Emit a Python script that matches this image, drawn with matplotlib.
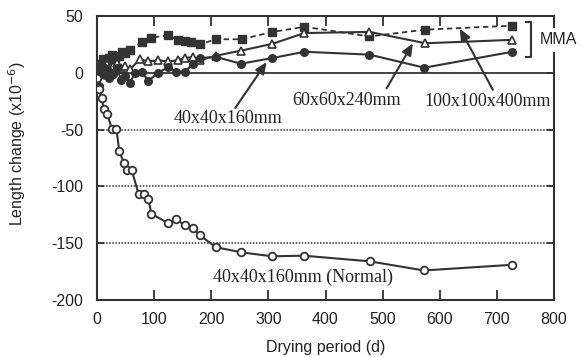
import matplotlib
matplotlib.use("Agg")
import matplotlib.pyplot as plt

plt.rcParams["axes.unicode_minus"] = False

# ---- data ----
sq_d = [0, 3, 7, 11, 14, 18, 21, 26, 32, 39, 44, 49, 58, 78, 95, 125, 141, 154, 165, 180, 208, 253, 307, 363, 477, 575, 727]
sq_v = [0, 4, 8, 12, 9, 11, 13, 16, 12, 15, 18, 17, 20, 27, 31, 33, 29, 28, 27, 25, 29.5, 29.5, 36, 40.5, 32, 38, 41.5]

tri_d = [0, 3, 7, 11, 14, 18, 21, 28, 35, 42, 49, 58, 75, 90, 107, 125, 141, 154, 168, 180, 208, 252, 307, 363, 477, 575, 727]
tri_v = [0, 2, 5, 7, 3, 8, 2, 6, 9, 4, 6, 3, 12, 10, 11, 10, 11, 13, 14, 11, 15, 19.5, 25.5, 35, 36, 26, 29]

cir_d = [0, 3, 7, 11, 14, 18, 21, 28, 35, 42, 49, 58, 66, 78, 90, 107, 125, 138, 154, 168, 180, 208, 252, 307, 363, 477, 573, 727]
cir_v = [-3, -12, 2, 5, -2, 3, -5, -1, 4, -6, -3, -9, 0, 1, -7, 0, 5, 1, 1, 8, 13, 14, 8, 13, 18.5, 16, 4.5, 18.5]

nor_d = [0, 3, 8, 12, 18, 26, 34, 39, 47, 52, 61, 73, 82, 90, 95, 125, 138, 154, 168, 180, 208, 252, 306, 362, 478, 572, 727]
nor_v = [-5, -14, -22, -32, -36, -49.5, -49.5, -69, -79, -86, -86, -107, -107, -111, -124, -132.5, -129, -134, -136.5, -143,
         -153.5, -158, -161.5, -161, -166, -174, -169]

x_ticks = [0, 100, 200, 300, 400, 500, 600, 700, 800]
y_ticks = [50, 0, -50, -100, -150, -200]

C = "#333333"
SANS = "Liberation Sans"
SERIF = "Liberation Serif"

fig = plt.figure(figsize=(5.83, 3.57), dpi=100)
ax = fig.add_axes([97/583, 1-300/357, (554-97)/583, (300-16)/357])

ax.set_xlim(0, 800)
ax.set_ylim(-200, 50)

# grid lines
for g in [-50, -100, -150]:
    ax.axhline(g, color=C, lw=1.1, ls=(0, (1, 1)), zorder=1)
ax.axhline(0, color=C, lw=1.3, zorder=1)

ax.plot(sq_d, sq_v, color=C, lw=1.3, ls=(0, (3, 2)), marker="s", ms=6,
        mfc=C, mec=C, zorder=3)
ax.plot(tri_d, tri_v, color=C, lw=1.5, marker="^", ms=5.5,
        mfc="white", mec=C, mew=1.2, zorder=4)
ax.plot(cir_d, cir_v, color=C, lw=1.5, marker="o", ms=5.5,
        mfc=C, mec=C, zorder=4)
ax.plot(nor_d, nor_v, color=C, lw=1.5, marker="o", ms=5.5,
        mfc="white", mec=C, mew=1.3, zorder=4)

# axes style
for s in ax.spines.values():
    s.set_color(C)
    s.set_linewidth(1.5)
ax.set_xticks(x_ticks)
ax.set_yticks(y_ticks)
ax.tick_params(axis="x", direction="in", length=7, width=1.3, color=C,
               top=True, pad=9, labelsize=11.5, labelcolor="#222222")
ax.tick_params(axis="y", direction="in", length=5, width=1.3, color=C,
               right=True, pad=10, labelsize=11.5, labelcolor="#222222")
for lab in ax.get_xticklabels() + ax.get_yticklabels():
    lab.set_family(SANS)

ax.set_xlabel("Drying period (d)", fontsize=11.5, family=SANS, color="#222222")
ax.xaxis.set_label_coords(0.5, -0.142)
ax.set_ylabel("Length change (x10$^{-6}$)", fontsize=11.5, family=SANS, color="#222222")
ax.yaxis.set_label_coords(-0.151, 0.55)

arrow = dict(arrowstyle="-|>,head_length=0.7,head_width=0.3", color=C, lw=1.5,
             shrinkA=0, shrinkB=0)
tk = dict(fontsize=13, family=SERIF, color="#222222", ha="center", va="center")

ax.annotate("", xy=(297, 9.5), xytext=(242, -31), arrowprops=arrow, zorder=6)
ax.text(229, -40, "40x40x160mm", **tk)

ax.annotate("", xy=(553, 26), xytext=(507, -13.6), arrowprops=arrow, zorder=6)
ax.text(436, -24, "60x60x240mm", **tk)

ax.annotate("", xy=(635, 39), xytext=(693, -15), arrowprops=arrow, zorder=6)
ax.text(683, -25, "100x100x400mm", **tk)

ax.text(360, -180, "40x40x160mm (Normal)", **tk)

# MMA bracket
ax.plot([751, 760, 760, 751], [45, 45, 14.2, 14.2], color=C, lw=1.5,
        clip_on=False, zorder=6)
ax.text(775, 29, "MMA", fontsize=11.5, family=SANS, color="#222222",
        ha="left", va="center", clip_on=False, zorder=7,
        bbox=dict(facecolor="white", edgecolor="none", pad=3))

fig.savefig("out.png", dpi=100)
